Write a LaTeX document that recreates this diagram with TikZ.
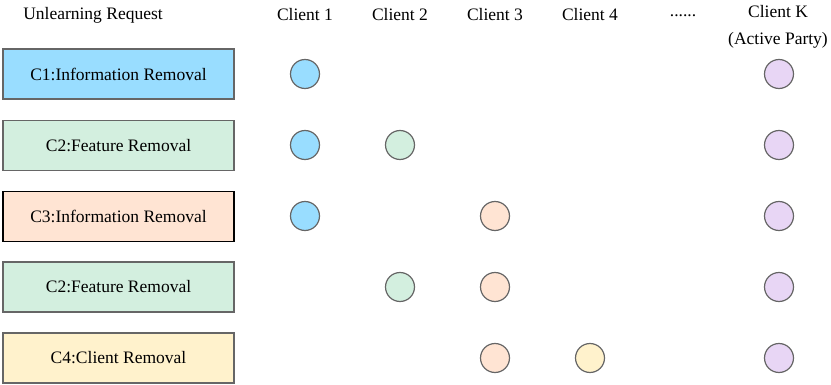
\documentclass[tikz,border=0pt]{standalone}
\usepackage{fontspec}
\setmainfont{Liberation Serif}
\definecolor{cblue}{HTML}{99DDFF}
\definecolor{cgreen}{HTML}{D3EFDF}
\definecolor{cpeach}{HTML}{FFE4D3}
\definecolor{cyellow}{HTML}{FFF2CC}
\definecolor{cpurple}{HTML}{E8D6F5}
\definecolor{cedge}{HTML}{666666}
\begin{document}
\begin{tikzpicture}[x=1pt,y=-1pt,
  req/.style={draw=cedge, line width=1.2pt, minimum width=231pt, minimum height=50pt, inner sep=0pt, font=\fontsize{17.5}{20}\selectfont},
  dot/.style={circle, draw=cedge, line width=1.2pt, minimum size=29pt, inner sep=0pt},
  head/.style={font=\fontsize{17.5}{20}\selectfont, inner sep=0pt}]
\useasboundingbox (0,0) rectangle (831,385);
% headers
\node[head] (hreq) at (93,15) {Unlearning Request};
\node[head] (h1) at (305,15) {Client 1};
\node[head] (h2) at (400,15) {Client 2};
\node[head] (h3) at (495,15) {Client 3};
\node[head] (h4) at (590,15) {Client 4};
\node[head] (hdots) at (683,16) {......};
\node[head] (hk) at (778,12) {Client K};
\node[head] (hka) at (778,40) {(Active Party)};
% request boxes
\node[req, fill=cblue] (r1) at (118.5,74) {C1:Information Removal};
\node[req, fill=cgreen] (r2) at (118.5,145.5) {C2:Feature Removal};
\node[req, fill=cpeach, draw=black] (r3) at (118.5,216.5) {C3:Information Removal};
\node[req, fill=cgreen] (r4) at (118.5,287) {C2:Feature Removal};
\node[req, fill=cyellow] (r5) at (118.5,358) {C4:Client Removal};
% circles
\node[dot, fill=cblue] (a1) at (305,74) {};
\node[dot, fill=cpurple] (ak) at (779,74) {};
\node[dot, fill=cblue] (b1) at (305,145) {};
\node[dot, fill=cgreen] (b2) at (400,145) {};
\node[dot, fill=cpurple] (bk) at (779,145) {};
\node[dot, fill=cblue] (c1) at (305,216) {};
\node[dot, fill=cpeach] (c3) at (495,216) {};
\node[dot, fill=cpurple] (ck) at (779,216) {};
\node[dot, fill=cgreen] (d2) at (400,287) {};
\node[dot, fill=cpeach] (d3) at (495,287) {};
\node[dot, fill=cpurple] (dk) at (779,287) {};
\node[dot, fill=cpeach] (e3) at (495,358) {};
\node[dot, fill=cyellow] (e4) at (590,358) {};
\node[dot, fill=cpurple] (ek) at (779,358) {};
\end{tikzpicture}
\end{document}
